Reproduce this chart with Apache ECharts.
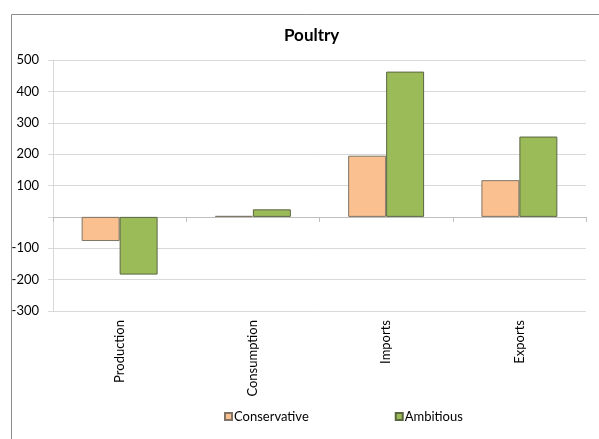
<!DOCTYPE html>
<html>
<head>
<meta charset="utf-8">
<script src="https://cdn.jsdelivr.net/npm/echarts@6/dist/echarts.min.js"></script>
<style>
html,body{margin:0;padding:0;background:#fff;}
#c{width:599px;height:439px;}
</style>
</head>
<body>
<div id="c"></div>
<script>
const categories = ['Production', 'Consumption', 'Imports', 'Exports'];
const conservative = [-77, 3, 195, 117];
const ambitious = [-184, 24, 463, 256];
const seriesNames = ['Conservative', 'Ambitious'];

const FONT = 'Lato, "Open Sans", sans-serif';
const chart = echarts.init(document.getElementById('c'), null, {renderer: 'canvas'});
chart.setOption({
  animation: false,
  backgroundColor: '#fff',
  textStyle: {fontFamily: FONT},
  graphic: [{
    type: 'rect',
    shape: {x: 11.5, y: 14.5, width: 700, height: 600},
    style: {fill: 'none', stroke: '#8c8c8c', lineWidth: 1},
    silent: true
  }],
  title: {
    text: 'Poultry',
    left: 284, top: 27, padding: 0,
    textStyle: {fontFamily: FONT, fontWeight: 'bold', fontSize: 17, color: '#000'}
  },
  legend: {
    data: seriesNames,
    left: 224, top: 410, padding: 0,
    itemWidth: 7, itemHeight: 7, itemGap: 86,
    icon: 'rect',
    textStyle: {fontFamily: FONT, fontSize: 13, color: '#000', padding: [0, 0, 0, -3]}
  },
  grid: {left: 53, right: 13, top: 60, bottom: 128, containLabel: false},
  xAxis: [{
    type: 'category',
    data: categories,
    position: 'bottom',
    axisLine: {onZero: true, lineStyle: {color: '#bfbfbf', width: 1}},
    axisTick: {show: true, length: 5, lineStyle: {color: '#bfbfbf'}},
    axisLabel: {show: false},
    splitLine: {show: false}
  }, {
    type: 'category',
    data: categories,
    position: 'bottom',
    axisLine: {show: false, onZero: false},
    axisTick: {show: false},
    axisLabel: {show: true, rotate: 90, margin: 9, fontFamily: FONT, fontSize: 13, color: '#000'},
    splitLine: {show: false}
  }],
  yAxis: {
    type: 'value',
    min: -300, max: 500, interval: 100,
    axisLine: {show: true, lineStyle: {color: '#d9d9d9'}},
    axisTick: {show: true, length: 5, lineStyle: {color: '#d9d9d9'}},
    axisLabel: {
      margin: 14, fontFamily: FONT, fontSize: 13, color: '#000',
      formatter: v => v === 0 ? '' : String(v)
    },
    splitLine: {lineStyle: {color: '#d9d9d9'}}
  },
  series: [{
    name: seriesNames[0], type: 'bar', data: conservative,
    xAxisIndex: 0,
    barGap: '0%', barCategoryGap: '43%',
    itemStyle: {color: '#FAC090', borderColor: '#7f7466', borderWidth: 1}
  }, {
    name: seriesNames[1], type: 'bar', data: ambitious,
    xAxisIndex: 0,
    barGap: '0%', barCategoryGap: '43%',
    itemStyle: {color: '#9BBB59', borderColor: '#5a6640', borderWidth: 1}
  }]
});
</script>
</body>
</html>
